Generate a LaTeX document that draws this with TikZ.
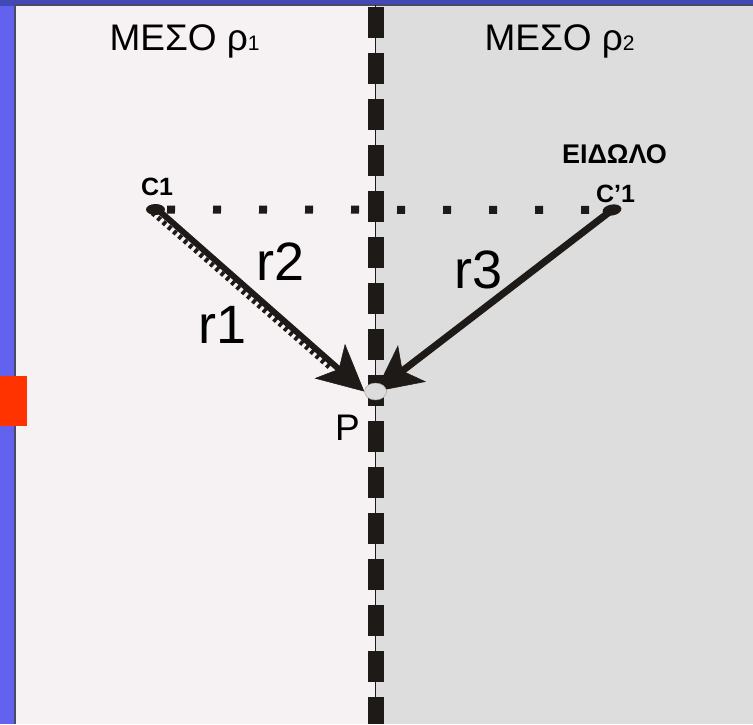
\documentclass[tikz,border=0pt]{standalone}
\usepackage{fontspec}
\setmainfont{Liberation Sans}
\usetikzlibrary{arrows.meta,shapes.geometric}
\definecolor{topblue}{HTML}{4248B6}
\definecolor{sideblue}{HTML}{6262EE}
\definecolor{edgegray}{HTML}{4A4A66}
\definecolor{leftpanel}{HTML}{F6F2F3}
\definecolor{rightpanel}{HTML}{DDDDDD}
\definecolor{ink}{HTML}{1E1A18}
\definecolor{redmark}{HTML}{FF3300}
\definecolor{pfill}{HTML}{DCDCDC}
\pgfdeclarelayer{bg}
\pgfdeclarelayer{fg}
\pgfsetlayers{bg,main,fg}
\begin{document}
\begin{tikzpicture}[x=1pt,y=-1pt,
  srcpt/.style={ellipse, fill=ink, minimum width=19pt, minimum height=11pt, inner sep=0pt},
  ppt/.style={ellipse, fill=pfill, draw=pfill!70!black, line width=0.4pt, minimum width=22pt, minimum height=17pt, inner sep=0pt},
  ray/.style={draw=ink, line width=7pt},
  bighead/.style={-{Stealth[length=46pt,width=46pt,inset=12pt,line width=0.5pt]}},
  lbl/.style={inner sep=0pt, outer sep=0pt, anchor=base west, text=black},
  medium/.style={lbl, font=\fontsize{37}{40}\selectfont},
  raylbl/.style={lbl, font=\fontsize{54}{58}\selectfont},
  boldlbl/.style={lbl, font=\bfseries\fontsize{25}{28}\selectfont},
  tag/.style={lbl, font=\bfseries\fontsize{27}{30}\selectfont}
]
\useasboundingbox (0,0) rectangle (753,724);
\begin{pgfonlayer}{bg}
  \fill[topblue] (0,0) rectangle (753,724);
  \fill[sideblue] (0,6) rectangle (15,724);
  \fill[leftpanel] (15,5) rectangle (376,724);
  \fill[rightpanel] (376,5) rectangle (753,724);
  \draw[edgegray, line width=1.5pt] (15,724) -- (15,5) -- (753,5);
  \fill[redmark] (0,376) rectangle (27,426);
  \draw[ink, line width=1.2pt] (375.5,5) -- (375.5,724);
  \draw[ink, line width=16pt, dash pattern=on 31pt off 15pt] (376,7) -- (376,724);
\end{pgfonlayer}

\node[srcpt] (c1) at (155.5,209.5) {};
\node[srcpt, rotate=10] (cp1) at (612,210) {};
\begin{pgfonlayer}{fg}
  \node[ppt] (p) at (375.5,391.5) {};
\end{pgfonlayer}

% dotted line between source and image
\draw[ink, line width=8pt, dash pattern=on 8pt off 38pt, dash phase=34.5pt] (c1.center) -- (cp1.center);

% rays
\draw[ink, line width=5pt, dash pattern=on 3.5pt off 3.5pt, shorten >=40pt] ([shift={(-3,3.4)}]c1.center) -- ([shift={(-3,3.4)}]p.west);
\draw[ray, line width=6pt, bighead] ([shift={(1,-1)}]c1.center) -- (p.west);
\draw[ray, bighead] (cp1.center) -- (p.center);

% labels
\node[medium] (m1) at (109.5,50) {ΜΕΣΟ ρ{\fontsize{21}{21}\selectfont 1}};
\node[medium] (m2) at (484.5,50) {ΜΕΣΟ ρ{\fontsize{21}{21}\selectfont 2}};
\node[raylbl] (lr1) at (198.5,343) {r1};
\node[raylbl] (lr2) at (256.5,280) {r2};
\node[raylbl] (lr3) at (454.5,288) {r3};
\node[boldlbl] (lc1) at (141,195) {C1};
\node[boldlbl] (lcp1) at (596,202) {C’1};
\node[tag] (limg) at (562,163) {ΕΙΔΩΛΟ};
\node[medium] (lp) at (335,440) {P};
\end{tikzpicture}
\end{document}
